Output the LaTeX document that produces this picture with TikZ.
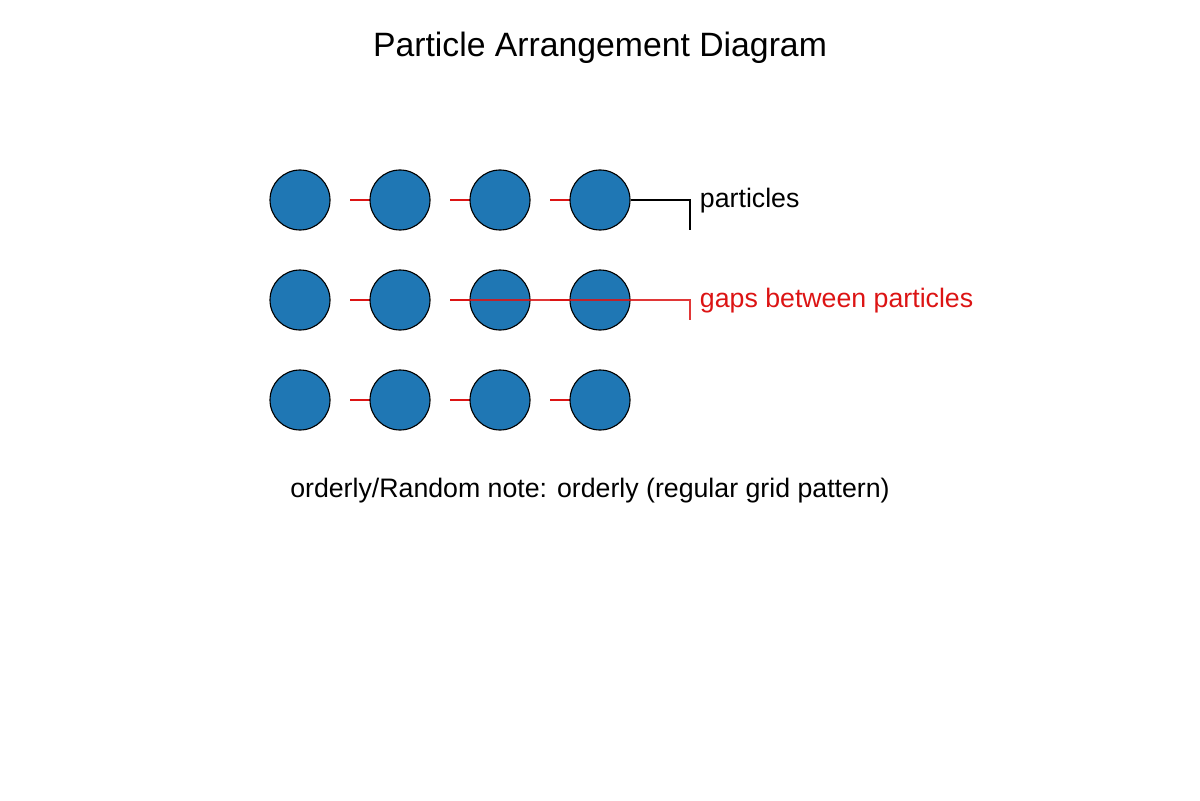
\documentclass[tikz,border=0pt]{standalone}
\usepackage{fontspec}
\setmainfont{Liberation Sans}
\usetikzlibrary{positioning}
\definecolor{particleblue}{RGB}{31,119,180}
\definecolor{gapred}{RGB}{220,20,20}
\tikzset{
    particle/.style={circle, draw=black, line width=0.8pt, fill=particleblue, minimum size=60*0.025cm, inner sep=0pt},
    gap/.style={gapred, line width=1.8pt},
}
\begin{document}
\begin{tikzpicture}[x=0.025cm, y=-0.025cm]
    \useasboundingbox (0,0) rectangle (1200,800);
    % title
    \node[font=\fontsize{24}{28}\selectfont] (title) at (600,48) {Particle Arrangement Diagram};
    
    % gap marks (behind particles)
    \foreach \r in {1,2,3} {
        \foreach \c in {1,2,3} {
            \draw[gap] (250+\c*100,100+\r*100) -- (270+\c*100,100+\r*100);
        }
    }
    
    % particles in a regular grid
    \foreach \r in {1,2,3} {
        \foreach \c in {1,2,3,4} {
            \node[particle] (p\r\c) at (200+\c*100,100+\r*100) {};
        }
    }
    
    % labels
    \node[font=\fontsize{19}{22}\selectfont, anchor=west] (lblp) at (695,201) {particles};
    \node[font=\fontsize{19}{22}\selectfont, anchor=west, text=gapred] (lblg) at (695,301) {gaps between particles};
    \coordinate (endp) at (690,230);
    \coordinate (endg) at (690,320);
    \draw[black, line width=1pt] (p14.east) -| (endp);
    \draw[gapred, line width=1.2pt, opacity=0.85] (450,300) -| (endg);
    
    \node[font=\fontsize{19}{22}\selectfont] (note) at (590,491) {orderly/Random note: orderly (regular grid pattern)};
\end{tikzpicture}
\end{document}
